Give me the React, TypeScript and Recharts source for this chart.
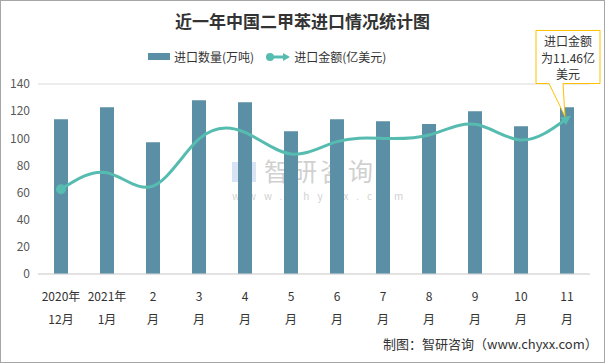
import React from 'react';
import { ComposedChart, Bar, Line, XAxis, YAxis, CartesianGrid } from 'recharts';

const months = ['2020年12月', '2021年1月', '2月', '3月', '4月', '5月', '6月', '7月', '8月', '9月', '10月', '11月'];
const tickTop = ['2020年', '2021年', '2', '3', '4', '5', '6', '7', '8', '9', '10', '11'];
const tickBottom = ['12月', '1月', '月', '月', '月', '月', '月', '月', '月', '月', '月', '月'];
const volume = [114, 122.8, 97, 128, 126.5, 105.1, 114, 112.5, 110.5, 119.9, 108.8, 122.8];
const amount = [6.24, 7.46, 6.48, 9.95, 10.44, 8.84, 9.75, 9.99, 10.24, 11.03, 9.87, 11.46];
const yTicks = [0, 20, 40, 60, 80, 100, 120, 140];

const BAR = '#5b8fa6';
const TEAL = '#56bcb0';
const FONT = '"Noto Sans CJK SC", "Noto Sans", sans-serif';

const data = months.map((m, i) => ({ month: m, volume: volume[i], amount: amount[i] }));

const MonthTick = (props: any) => {
  const { x, y, payload } = props;
  const i = payload.index;
  return (
    <g>
      <text x={x} y={y + 19} textAnchor="middle" fontSize={12} fill="#333" fontFamily={FONT}>{tickTop[i]}</text>
      <text x={x} y={y + 42} textAnchor="middle" fontSize={12} fill="#333" fontFamily={FONT}>{tickBottom[i]}</text>
    </g>
  );
};

const AmountDot = (props: any) => {
  const { cx, cy, index } = props;
  if (index === 0) {
    return <circle key={index} cx={cx} cy={cy} r={5} fill={TEAL} />;
  }
  if (index === amount.length - 1) {
    const l = cx - 31, r = cx + 33, t = cy - 88, b = cy - 35;
    return (
      <g key={index}>
        <path
          d={`M${l},${t} L${r},${t} L${r},${b} L${cx - 4},${b} L${cx - 2},${cy - 2} L${cx - 18},${b} L${l},${b} Z`}
          fill="#fff" stroke="#ffc000" strokeWidth={1}
        />
        <text x={cx + 1} y={t + 16} textAnchor="middle" fontSize={12} fill="#333" fontFamily={FONT}>进口金额</text>
        <text x={cx + 1} y={t + 33} textAnchor="middle" fontSize={12} fill="#333" fontFamily={FONT}>{`为${amount[index]}亿`}</text>
        <text x={cx + 1} y={t + 49} textAnchor="middle" fontSize={12} fill="#333" fontFamily={FONT}>美元</text>
      </g>
    );
  }
  return <g key={index} />;
};

export default function App() {
  return (
    <div style={{ position: 'absolute', left: 0, top: 0, width: 605, height: 363, background: '#fff', fontFamily: FONT }}>
      <div style={{ position: 'absolute', left: 0, top: 0, width: 603, height: 361, border: '1px solid #a6a6a6' }} />
      <div style={{ position: 'absolute', top: 8, width: 605, textAlign: 'center', fontSize: 17, fontWeight: 'bold', color: '#333' }}>
        近一年中国二甲苯进口情况统计图
      </div>
      <div style={{ position: 'absolute', top: 48, left: 148, display: 'flex', alignItems: 'center', fontSize: 12, color: '#333' }}>
        <span style={{ width: 22, height: 7, background: BAR, marginRight: 4 }} />
        <span>进口数量(万吨)</span>
        <svg width={26} height={12} style={{ marginLeft: 11, marginRight: 3 }}>
          <line x1={4} y1={6} x2={20} y2={6} stroke={TEAL} strokeWidth={3} />
          <circle cx={5} cy={6} r={4} fill={TEAL} />
          <path d="M18,2 L25,6 L18,10 Z" fill={TEAL} />
        </svg>
        <span>进口金额(亿美元)</span>
      </div>
      <div style={{ position: 'absolute', left: 232, top: 158, opacity: 0.3, pointerEvents: 'none' }}>
        <div style={{ position: 'absolute', left: 0, top: 4, width: 24, height: 20, background: '#7fa8d8' }} />
        <div style={{ position: 'absolute', left: 32, top: 0, fontSize: 25, lineHeight: '25px', letterSpacing: 3, color: '#666', whiteSpace: 'nowrap' }}>智研咨询</div>
        <div style={{ position: 'absolute', left: 0, top: 33, fontSize: 10, lineHeight: '10px', letterSpacing: 8, color: '#666', whiteSpace: 'nowrap' }}>www.chyxx.com</div>
      </div>
      <ComposedChart width={605} height={363} data={data} margin={{ top: 84, right: 15, left: 0, bottom: 0 }}
        style={{ position: 'absolute', left: 0, top: 0 }}>
        <defs>
          <marker id="arrowHead" viewBox="0 0 10 10" refX="5" refY="5" markerWidth="3.2" markerHeight="3.2" orient="auto">
            <path d="M0,0 L10,5 L0,10 Z" fill={TEAL} />
          </marker>
        </defs>
        <CartesianGrid vertical={false} stroke="#d9d9d9" />
        <XAxis dataKey="month" interval={0} height={89} tickLine={false} axisLine={{ stroke: '#d9d9d9' }} tick={<MonthTick />} />
        <YAxis yAxisId="left" width={38} domain={[0, 140]} ticks={yTicks} axisLine={false} tickLine={false}
          tick={{ fontSize: 12, fill: '#595959', fontFamily: FONT }} />
        <YAxis yAxisId="right" orientation="right" hide domain={[0, 14]} />
        <Bar yAxisId="left" dataKey="volume" fill={BAR} barSize={14} isAnimationActive={false} />
        <Line yAxisId="right" dataKey="amount" type="natural" stroke={TEAL} strokeWidth={3} dot={<AmountDot />}
          activeDot={false} markerEnd="url(#arrowHead)" isAnimationActive={false} />
      </ComposedChart>
      <div style={{ position: 'absolute', left: 383, top: 334, fontSize: 13, color: '#333' }}>
        制图：智研咨询（www.chyxx.com）
      </div>
    </div>
  );
}
